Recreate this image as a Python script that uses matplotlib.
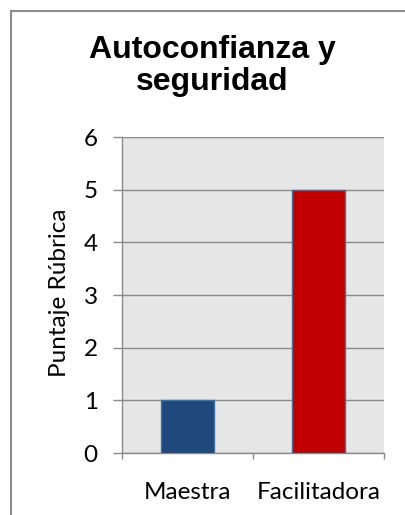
import matplotlib
matplotlib.use("Agg")
import matplotlib.pyplot as plt
from matplotlib.lines import Line2D

categories = ["Maestra", "Facilitadora"]
scores = [1, 5]
bar_colors = ["#1F497D", "#C00000"]
y_ticks = [0, 1, 2, 3, 4, 5, 6]

W, H = 405, 515
fig = plt.figure(figsize=(W / 100, H / 100), dpi=100)
fig.patch.set_facecolor("white")

# outer chart border (only left and top visible)
fig.add_artist(Line2D([10.5 / W, 10.5 / W], [0, 1 - 10.5 / H], transform=fig.transFigure,
                      color="#8C8C8C", lw=1.5))
fig.add_artist(Line2D([10.5 / W, 1], [1 - 10.5 / H, 1 - 10.5 / H], transform=fig.transFigure,
                      color="#8C8C8C", lw=1.5))

ax = fig.add_axes([122 / W, 1 - 453 / H, (384 - 122) / W, (453 - 137) / H])
ax.set_facecolor("#E6E6E6")

x = list(range(len(categories)))
ax.bar(x, scores, width=0.41, color=bar_colors, edgecolor="#41719C", linewidth=1.0, zorder=3)

ax.set_xlim(-0.5, len(categories) - 0.5)
ax.set_ylim(0, 6)
ax.set_yticks(y_ticks)
ax.set_yticklabels([str(v) for v in y_ticks], fontsize=17.5, family="Lato")
ax.yaxis.grid(True, color="#8A8A8A", lw=1.0, zorder=1)
ax.set_axisbelow(True)

ax.set_xticks(x)
ax.set_xticklabels(categories, fontsize=17.5, family="Lato")
ax.set_xticks([-0.5, 0.5, 1.5], minor=True)
ax.tick_params(axis="x", which="major", length=0, pad=21)
ax.tick_params(axis="x", which="minor", length=4.5, color="#8A8A8A", width=1.0)
ax.tick_params(axis="y", length=6.5, color="#8A8A8A", width=1.0, pad=11)

for side in ["top", "right"]:
    ax.spines[side].set_visible(False)
for side in ["left", "bottom"]:
    ax.spines[side].set_color("#8A8A8A")
    ax.spines[side].set_linewidth(1.0)

fig.text(212 / W, 1 - 66 / H, "Autoconfianza y\nseguridad", ha="center", va="center",
         fontsize=23, fontweight="bold", family="Liberation Sans", linespacing=1.05)
fig.text(60 / W, 1 - 293 / H, "Puntaje Rúbrica", rotation=90, ha="center", va="center",
         fontsize=17.5, family="Lato")

fig.savefig("out.png", dpi=100)
